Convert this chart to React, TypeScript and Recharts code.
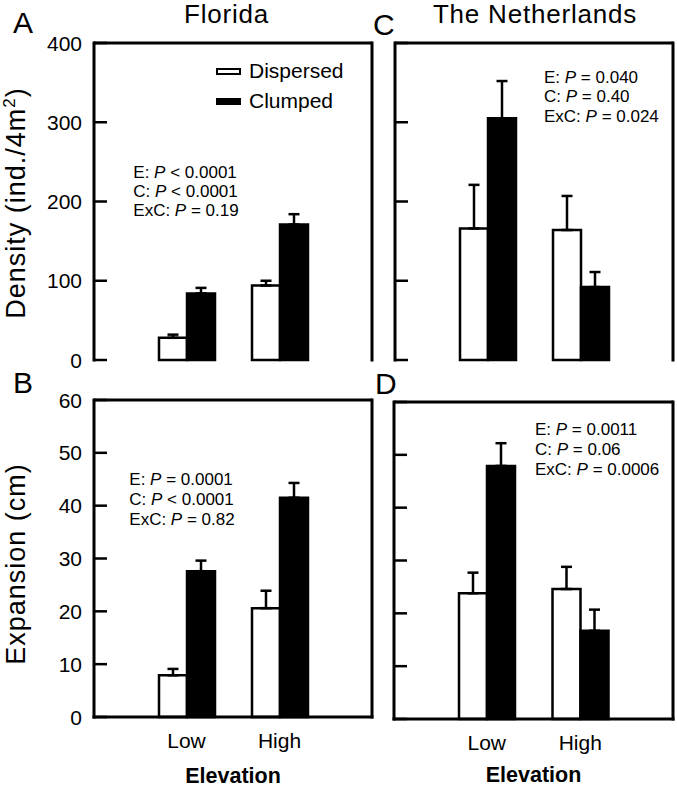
import React from 'react';
import { BarChart, Bar, XAxis, YAxis, ErrorBar, Legend, ReferenceLine } from 'recharts';

// categories
const elevations = ['Low', 'High'];

// Florida density (ind./4m2)
const flDensityDispersed = [28, 94];
const flDensityDispersedSE = [4, 6];
const flDensityClumped = [84, 171];
const flDensityClumpedSE = [7, 13];

// Netherlands density
const nlDensityDispersed = [166, 164];
const nlDensityDispersedSE = [55, 43];
const nlDensityClumped = [305, 92];
const nlDensityClumpedSE = [47, 19];

// Florida expansion (cm)
const flExpDispersed = [7.9, 20.6];
const flExpDispersedSE = [1.2, 3.3];
const flExpClumped = [27.6, 41.5];
const flExpClumpedSE = [2.0, 2.8];

// Netherlands expansion
const nlExpDispersed = [23.8, 24.6];
const nlExpDispersedSE = [3.9, 4.2];
const nlExpClumped = [47.9, 16.7];
const nlExpClumpedSE = [4.3, 4.0];

const densityTicks = [0, 100, 200, 300, 400];
const expansionTicks = [0, 10, 20, 30, 40, 50, 60];

const seriesNames = ['Dispersed', 'Clumped'];

// stats text: [label, operator + value]
const statsA = [['E: ', ' < 0.0001'], ['C: ', ' < 0.0001'], ['ExC: ', ' = 0.19']];
const statsC = [['E: ', ' = 0.040'], ['C: ', ' = 0.40'], ['ExC: ', ' = 0.024']];
const statsB = [['E: ', ' = 0.0001'], ['C: ', ' < 0.0001'], ['ExC: ', ' = 0.82']];
const statsD = [['E: ', ' = 0.0011'], ['C: ', ' = 0.06'], ['ExC: ', ' = 0.0006']];

const FONT = '"Liberation Sans", Arial, Helvetica, sans-serif';
const frameLine = { stroke: '#000', strokeWidth: 3, strokeLinecap: 'square' as const };

const buildRows = (disp: number[], dispSE: number[], clump: number[], clumpSE: number[]) =>
  elevations.map((elevation, i) => ({
    elevation,
    dispersed: disp[i],
    clumped: clump[i],
    dispersedErr: [0, dispSE[i]],
    clumpedErr: [0, clumpSE[i]],
  }));

const makeYTick = (showLabel: boolean) => (props: any) => {
  const { x, y, payload } = props;
  // tickMargin is 12, so the axis line sits at x + 12
  return (
    <g>
      <line x1={x + 12} x2={x + 25} y1={y} y2={y} stroke="#000" strokeWidth={2.5} />
      {showLabel && (
        <text x={x} y={y} textAnchor="end" dominantBaseline="central" fontSize={21} fill="#000">
          {payload.value}
        </text>
      )}
    </g>
  );
};

const LegendContent = () => (
  <div style={{ fontFamily: FONT }}>
    {seriesNames.map((name, i) => (
      <div key={name} style={{ display: 'flex', alignItems: 'center', height: 22, marginBottom: 8 }}>
        <div
          style={{
            width: 25,
            height: 7,
            boxSizing: 'border-box',
            border: '2px solid #000',
            background: i === 0 ? '#fff' : '#000',
          }}
        />
        <span style={{ marginLeft: 8, fontSize: 21, lineHeight: '22px', color: '#000' }}>{name}</span>
      </div>
    ))}
  </div>
);

interface PanelProps {
  data: any[];
  width: number;
  height: number;
  margin: { top: number; right: number; bottom: number; left: number };
  yMax: number;
  yTicks: number[];
  yAxisWidth: number;
  showYLabels: boolean;
  yLabel?: { text: string; sup?: string; x: number; y: number };
  showX: boolean;
  xTitleY?: number;
  legend?: boolean;
}

const Panel: React.FC<PanelProps> = ({
  data, width, height, margin, yMax, yTicks, yAxisWidth, showYLabels, yLabel, showX, xTitleY, legend,
}) => (
  <BarChart width={width} height={height} data={data} margin={margin} barGap={0}>
    <XAxis
      dataKey="elevation"
      height={showX ? 67 : 0}
      padding={{ left: 46, right: 46 }}
      axisLine={frameLine}
      tickLine={false}
      tickSize={0}
      tickMargin={16}
      tick={showX ? { fontSize: 21, fill: '#000' } : false}
      label={
        showX
          ? {
              content: (p: any) => {
                const vb = p.viewBox;
                return (
                  <text
                    x={vb.x + vb.width / 2}
                    y={vb.y + (xTitleY || 65)}
                    textAnchor="middle"
                    fontSize={21.5}
                    fontWeight="bold"
                    fill="#000"
                  >
                    Elevation
                  </text>
                );
              },
            }
          : undefined
      }
    />
    <YAxis
      domain={[0, yMax]}
      ticks={yTicks}
      width={yAxisWidth}
      axisLine={frameLine}
      tickLine={false}
      tickSize={0}
      tickMargin={12}
      tick={makeYTick(showYLabels)}
      interval={0}
      label={
        yLabel
          ? {
              content: () => (
                <text
                  transform={`translate(${yLabel.x},${yLabel.y}) rotate(-90)`}
                  textAnchor="middle"
                  fontSize={27}
                  letterSpacing={1}
                  fill="#000"
                >
                  {yLabel.text}
                  {yLabel.sup && (
                    <tspan dy={-10} fontSize={17}>
                      {yLabel.sup}
                    </tspan>
                  )}
                  {yLabel.sup && <tspan dy={10}>)</tspan>}
                </text>
              ),
            }
          : undefined
      }
    />
    {/* frame: right edge (axis line only) and top edge */}
    <YAxis
      yAxisId="right"
      type="number"
      orientation="right"
      domain={[0, yMax]}
      ticks={[0, yMax]}
      allowDataOverflow
      width={1}
      axisLine={frameLine}
      tick={false}
      tickLine={false}
    />
    <ReferenceLine y={yMax} stroke="#000" strokeWidth={3} ifOverflow="visible" />
    {legend && (
      <Legend
        layout="vertical"
        align="center"
        verticalAlign="middle"
        content={<LegendContent />}
        wrapperStyle={{ top: 60, left: 216, width: 150 }}
      />
    )}
    <Bar
      dataKey="dispersed"
      name={seriesNames[0]}
      fill="#fff"
      stroke="#000"
      strokeWidth={2.5}
      barSize={28}
      isAnimationActive={false}
    >
      <ErrorBar dataKey="dispersedErr" width={5.5} stroke="#000" strokeWidth={2.5} isAnimationActive={false} />
    </Bar>
    <Bar
      dataKey="clumped"
      name={seriesNames[1]}
      fill="#000"
      stroke="#000"
      strokeWidth={2.5}
      barSize={28}
      isAnimationActive={false}
    >
      <ErrorBar dataKey="clumpedErr" width={5.5} stroke="#000" strokeWidth={2.5} isAnimationActive={false} />
    </Bar>
  </BarChart>
);

const StatsText = ({ x, y, lines, step }: { x: number; y: number; lines: string[][]; step: number }) => (
  <text x={x} y={y} fontSize={17} fill="#000">
    {lines.map((l, i) => (
      <tspan key={i} x={x} y={y + i * step}>
        {l[0]}
        <tspan fontStyle="italic">P</tspan>
        {l[1]}
      </tspan>
    ))}
  </text>
);

export default function App() {
  const flDensity = buildRows(flDensityDispersed, flDensityDispersedSE, flDensityClumped, flDensityClumpedSE);
  const nlDensity = buildRows(nlDensityDispersed, nlDensityDispersedSE, nlDensityClumped, nlDensityClumpedSE);
  const flExp = buildRows(flExpDispersed, flExpDispersedSE, flExpClumped, flExpClumpedSE);
  const nlExp = buildRows(nlExpDispersed, nlExpDispersedSE, nlExpClumped, nlExpClumpedSE);

  return (
    <div
      style={{
        position: 'absolute',
        left: 0,
        top: 0,
        width: 677,
        height: 788,
        background: '#fff',
        fontFamily: FONT,
        overflow: 'hidden',
      }}
    >
      <div style={{ position: 'absolute', left: 0, top: 0 }}>
        <Panel
          data={flDensity}
          width={380}
          height={380}
          margin={{ top: 43, right: 7, bottom: 20, left: 0 }}
          yMax={400}
          yTicks={densityTicks}
          yAxisWidth={94}
          showYLabels
          yLabel={{ text: 'Density (ind./4m', sup: '2', x: 24.5, y: 203 }}
          showX={false}
          legend
        />
      </div>
      <div style={{ position: 'absolute', left: 380, top: 0 }}>
        <Panel
          data={nlDensity}
          width={297}
          height={380}
          margin={{ top: 43, right: 3, bottom: 20, left: 0 }}
          yMax={400}
          yTicks={densityTicks}
          yAxisWidth={15}
          showYLabels={false}
          showX={false}
        />
      </div>
      <div style={{ position: 'absolute', left: 0, top: 380 }}>
        <Panel
          data={flExp}
          width={380}
          height={408}
          margin={{ top: 20, right: 7, bottom: 4, left: 0 }}
          yMax={60}
          yTicks={expansionTicks}
          yAxisWidth={94}
          showYLabels
          yLabel={{ text: 'Expansion (cm)', x: 25, y: 184 }}
          showX
          xTitleY={66}
        />
      </div>
      <div style={{ position: 'absolute', left: 380, top: 380 }}>
        <Panel
          data={nlExp}
          width={297}
          height={408}
          margin={{ top: 22, right: 3, bottom: 2, left: 0 }}
          yMax={60}
          yTicks={expansionTicks}
          yAxisWidth={14}
          showYLabels={false}
          showX
          xTitleY={63}
        />
      </div>

      <svg
        width={677}
        height={788}
        style={{ position: 'absolute', left: 0, top: 0, pointerEvents: 'none' }}
      >
        <g fill="#000" fontFamily={FONT}>
          <text x={226.5} y={22.7} fontSize={26} letterSpacing={0.8} textAnchor="middle">Florida</text>
          <text x={535} y={22.7} fontSize={26} letterSpacing={0.8} textAnchor="middle">The Netherlands</text>
          <text x={13} y={32.7} fontSize={30}>A</text>
          <text x={373} y={35} fontSize={30}>C</text>
          <text x={13} y={393} fontSize={30}>B</text>
          <text x={375} y={394} fontSize={30}>D</text>
        </g>
        <StatsText x={133.3} y={178} lines={statsA} step={18.8} />
        <StatsText x={544} y={83} lines={statsC} step={19.3} />
        <StatsText x={129.3} y={485} lines={statsB} step={20} />
        <StatsText x={535} y={435} lines={statsD} step={20} />
      </svg>
    </div>
  );
}
